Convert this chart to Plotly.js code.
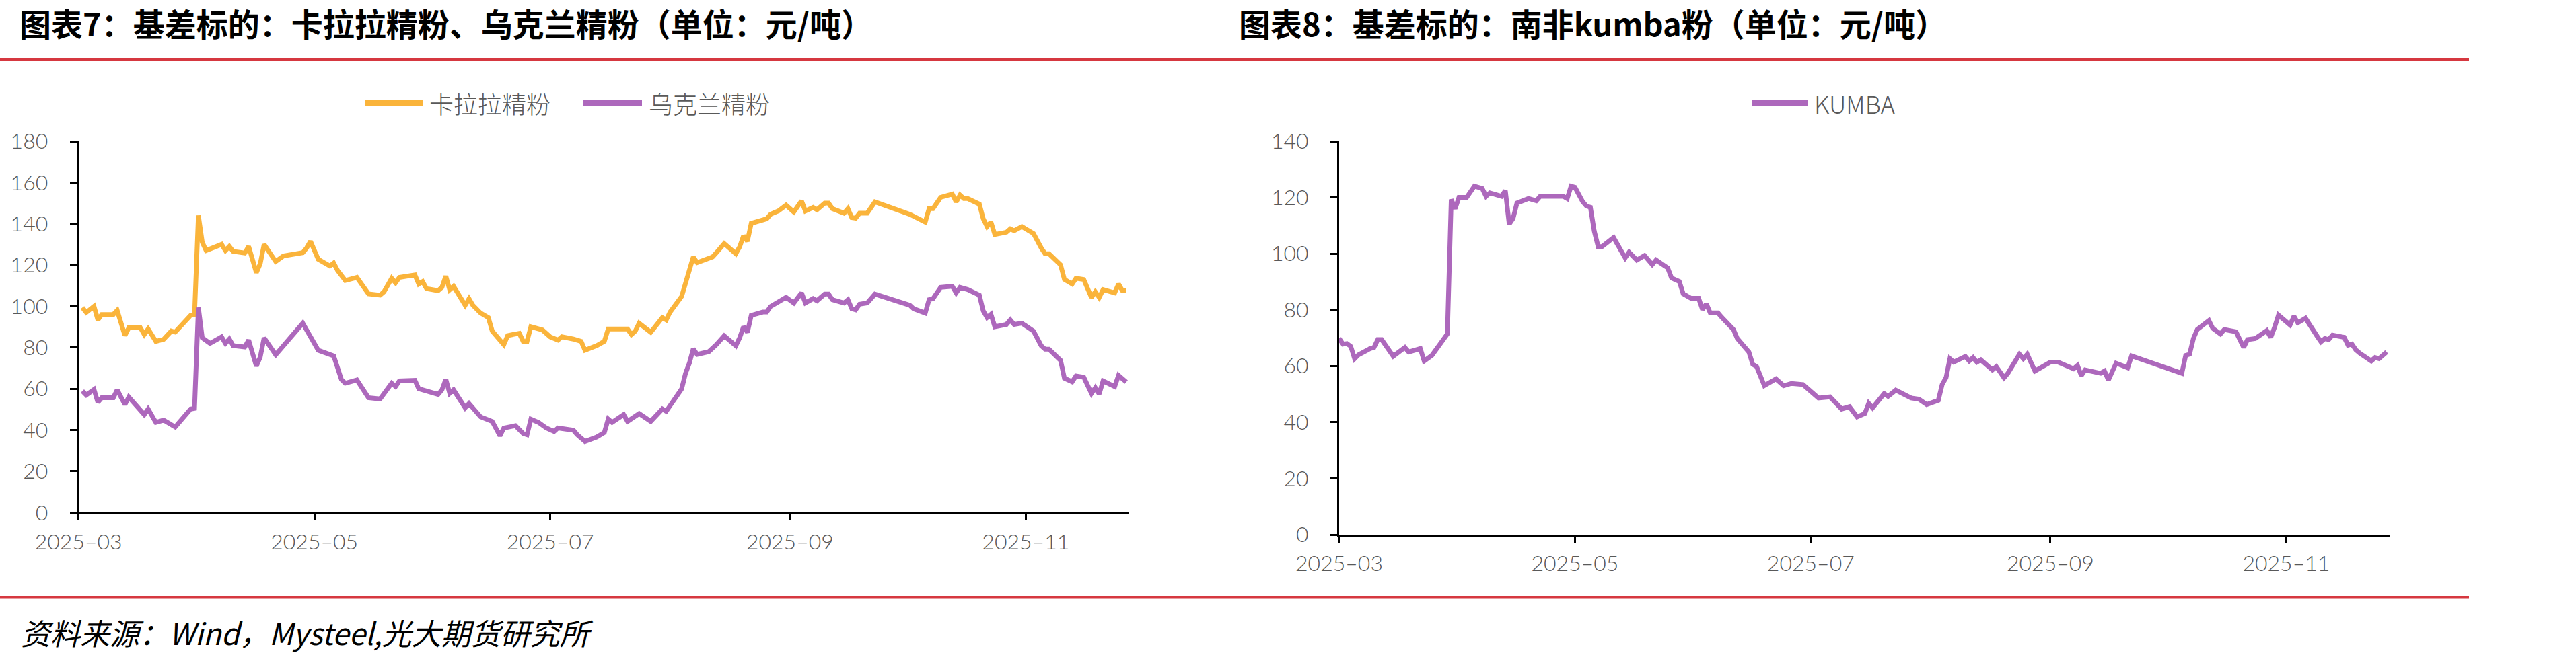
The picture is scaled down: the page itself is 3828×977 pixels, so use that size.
<!DOCTYPE html>
<html>
<head>
<meta charset="utf-8">
<script src="https://cdn.plot.ly/plotly-3.0.1.min.js"></script>
<style>
  html, body { margin: 0; padding: 0; background: #ffffff; }
  #chart { width: 3828px; height: 977px; }
</style>
</head>
<body>
<div id="chart"></div>
<script>
// 卡拉拉精粉 basis (元/吨)
const carajasDates = ['2025-03-02','2025-03-03','2025-03-05','2025-03-06','2025-03-07','2025-03-10','2025-03-11','2025-03-13','2025-03-14','2025-03-17','2025-03-18','2025-03-19','2025-03-21','2025-03-23','2025-03-25','2025-03-26','2025-03-30','2025-03-31',
  '2025-04-01','2025-04-02','2025-04-03','2025-04-07','2025-04-08','2025-04-09','2025-04-10','2025-04-13','2025-04-14','2025-04-16','2025-04-17','2025-04-18','2025-04-21','2025-04-23','2025-04-28','2025-04-29','2025-04-30',
  '2025-05-02','2025-05-05','2025-05-06','2025-05-07','2025-05-09','2025-05-12','2025-05-15','2025-05-18','2025-05-19','2025-05-21','2025-05-22','2025-05-23','2025-05-27','2025-05-28','2025-05-29','2025-05-30',
  '2025-06-02','2025-06-03','2025-06-04','2025-06-05','2025-06-06','2025-06-09','2025-06-10','2025-06-11','2025-06-13','2025-06-15','2025-06-16','2025-06-19','2025-06-20','2025-06-23','2025-06-24','2025-06-25','2025-06-26','2025-06-29',
  '2025-07-01','2025-07-03','2025-07-04','2025-07-07','2025-07-09','2025-07-10','2025-07-13','2025-07-15','2025-07-16','2025-07-21','2025-07-22','2025-07-23','2025-07-24','2025-07-27','2025-07-30','2025-07-31',
  '2025-08-01','2025-08-04','2025-08-05','2025-08-06','2025-08-07','2025-08-08','2025-08-11','2025-08-12','2025-08-13','2025-08-15','2025-08-18','2025-08-19','2025-08-20','2025-08-21','2025-08-22','2025-08-25','2025-08-26','2025-08-27','2025-08-29','2025-08-31',
  '2025-09-02','2025-09-04','2025-09-05','2025-09-07','2025-09-08','2025-09-10','2025-09-11','2025-09-12','2025-09-15','2025-09-16','2025-09-17','2025-09-18','2025-09-19','2025-09-21','2025-09-23',
  '2025-10-02','2025-10-06','2025-10-07','2025-10-08','2025-10-10','2025-10-13','2025-10-14','2025-10-15','2025-10-16','2025-10-17','2025-10-20','2025-10-21','2025-10-22','2025-10-23','2025-10-24','2025-10-27','2025-10-28','2025-10-29','2025-10-31',
  '2025-11-03','2025-11-05','2025-11-06','2025-11-07','2025-11-10','2025-11-11','2025-11-13','2025-11-14','2025-11-16','2025-11-18','2025-11-19','2025-11-20','2025-11-21','2025-11-24','2025-11-25','2025-11-26','2025-11-27'];
const carajasValues = [99.4,97,100,93.4,96,96,98,85.8,89.6,89.6,86.3,89,83,84,88,87.5,95.6,96,
  144,131,127,130,127,129,126.6,125.8,129,116.3,120.6,130,121.7,124.4,126,128.3,131.5,
  122.8,119.5,121,117.4,112.5,114,106,105.4,107,113.6,111.4,114,115.2,110.8,112,108.6,
  107.6,109.2,114.6,108,109.7,100.5,103.7,100.5,96.7,94.5,88,81.4,85.8,86.9,83,83,90.1,88.5,
  85.2,83.6,85.2,84.1,83,78.7,80.9,83,89,89,86.3,88,91.8,87.4,94.5,93.4,
  97.2,104.8,111.4,116.8,123.9,121.2,122.8,123.9,126,130.4,125.5,128.8,134.2,131.5,140.2,141.9,142.4,144.6,146.2,149,
  145.7,151.1,146.2,147.9,146.8,150,150,147.3,145.1,147.3,143,142.7,145.1,145.1,150.6,
  144.6,140.8,147.3,147.3,152.8,154.4,150.6,153.9,152.2,152.2,149.5,142.4,138.6,140.8,134.8,135.9,137.5,136.6,138.6,
  135.3,128.3,125.5,125.5,120.1,113,110.8,113.6,113,104.3,107,104.3,108.1,106.5,110.8,107.6,107.6];

// 乌克兰精粉 basis (元/吨)
const ukraineDates = ['2025-03-02','2025-03-03','2025-03-05','2025-03-06','2025-03-07','2025-03-10','2025-03-11','2025-03-13','2025-03-14','2025-03-17','2025-03-18','2025-03-19','2025-03-21','2025-03-23','2025-03-25','2025-03-26','2025-03-30','2025-03-31',
  '2025-04-01','2025-04-02','2025-04-04','2025-04-07','2025-04-08','2025-04-09','2025-04-10','2025-04-13','2025-04-14','2025-04-16','2025-04-17','2025-04-18','2025-04-21','2025-04-28','2025-04-29',
  '2025-05-02','2025-05-06','2025-05-08','2025-05-09','2025-05-12','2025-05-15','2025-05-18','2025-05-21','2025-05-22','2025-05-23','2025-05-27','2025-05-28','2025-05-30',
  '2025-06-02','2025-06-03','2025-06-04','2025-06-05','2025-06-06','2025-06-09','2025-06-10','2025-06-13','2025-06-16','2025-06-18','2025-06-19','2025-06-22','2025-06-24','2025-06-25','2025-06-26','2025-06-28','2025-06-30',
  '2025-07-02','2025-07-03','2025-07-07','2025-07-08','2025-07-10','2025-07-13','2025-07-15','2025-07-16','2025-07-17','2025-07-20','2025-07-21','2025-07-24','2025-07-27','2025-07-30','2025-07-31',
  '2025-08-01','2025-08-04','2025-08-05','2025-08-06','2025-08-07','2025-08-08','2025-08-11','2025-08-12','2025-08-13','2025-08-15','2025-08-18','2025-08-19','2025-08-20','2025-08-21','2025-08-22','2025-08-25','2025-08-26','2025-08-27','2025-08-29','2025-08-31',
  '2025-09-02','2025-09-04','2025-09-05','2025-09-07','2025-09-08','2025-09-10','2025-09-11','2025-09-12','2025-09-15','2025-09-16','2025-09-17','2025-09-18','2025-09-19','2025-09-21','2025-09-23',
  '2025-10-02','2025-10-03','2025-10-06','2025-10-07','2025-10-08','2025-10-10','2025-10-13','2025-10-14','2025-10-15','2025-10-17','2025-10-20','2025-10-21','2025-10-22','2025-10-23','2025-10-24','2025-10-27','2025-10-28','2025-10-29','2025-10-31',
  '2025-11-03','2025-11-05','2025-11-06','2025-11-07','2025-11-10','2025-11-11','2025-11-13','2025-11-14','2025-11-16','2025-11-18','2025-11-19','2025-11-20','2025-11-21','2025-11-24','2025-11-25','2025-11-27'];
const ukraineValues = [58.9,57,59.7,53.5,55.7,55.7,59.5,52.4,56,49.7,47.5,50.2,43.7,44.8,42.6,41.5,50.2,50.5,
  99.4,84.7,82,85.2,82,84.1,80.9,80.3,83.6,71,75.4,84.7,76.5,91.8,88.5,
  78.7,76,64.5,62.7,64.3,55.7,55.1,62.7,61.1,63.8,64.1,60,58.9,
  57.3,59.5,64.6,57.8,59.5,50.8,52.9,46.4,44.2,37.2,41,42.1,38.3,37.7,45.3,43.7,41,
  39.3,41,39.9,37.7,34.5,36.6,38.8,45.3,43.7,47.5,44.2,48,44.2,50.2,49.1,
  51.8,60,67.5,72.5,79.4,76.7,78,79.4,81.5,85.7,80.9,84.7,90.1,87.4,95.6,97.2,97.2,99.9,102.1,104.3,
  101.6,106.5,101.6,103.7,102.7,105.9,105.9,103.2,101.6,103.2,98.8,98.3,101,101.6,105.9,
  100.5,98.8,96.7,103.2,103.7,109.2,109.7,106.5,109.2,108.1,105.4,97.8,94.5,96.1,90.1,91.2,93.4,91.2,91.8,
  88,80.9,79.2,79.2,73.8,65.1,63.4,66.2,65.6,57.8,60.5,57.5,63.8,61.1,66.5,63.3];

// 南非 KUMBA 粉 basis (元/吨)
const kumbaDates = ['2025-03-01','2025-03-02','2025-03-03','2025-03-04','2025-03-05','2025-03-06','2025-03-09','2025-03-10','2025-03-11','2025-03-12','2025-03-15','2025-03-18','2025-03-19','2025-03-22','2025-03-23','2025-03-25','2025-03-29','2025-03-30','2025-03-31',
  '2025-04-01','2025-04-03','2025-04-05','2025-04-07','2025-04-08','2025-04-09','2025-04-12','2025-04-13','2025-04-14','2025-04-15','2025-04-16','2025-04-19','2025-04-21','2025-04-22','2025-04-28','2025-04-29','2025-04-30',
  '2025-05-01','2025-05-03','2025-05-04','2025-05-05','2025-05-06','2025-05-07','2025-05-08','2025-05-11','2025-05-14','2025-05-15','2025-05-17','2025-05-19','2025-05-21','2025-05-22','2025-05-25','2025-05-26','2025-05-28','2025-05-29','2025-05-31',
  '2025-06-02','2025-06-03','2025-06-04','2025-06-05','2025-06-07','2025-06-08','2025-06-10','2025-06-11','2025-06-12','2025-06-15','2025-06-16','2025-06-17','2025-06-19','2025-06-22','2025-06-24','2025-06-26','2025-06-29',
  '2025-07-02','2025-07-03','2025-07-06','2025-07-09','2025-07-11','2025-07-13','2025-07-15','2025-07-16','2025-07-17','2025-07-20','2025-07-21','2025-07-23','2025-07-27','2025-07-29','2025-07-31',
  '2025-08-03','2025-08-04','2025-08-05','2025-08-06','2025-08-07','2025-08-10','2025-08-11','2025-08-12','2025-08-13','2025-08-14','2025-08-17','2025-08-18','2025-08-20','2025-08-21','2025-08-24','2025-08-25','2025-08-26','2025-08-28',
  '2025-09-01','2025-09-03','2025-09-07','2025-09-08','2025-09-09','2025-09-10','2025-09-14','2025-09-15','2025-09-16','2025-09-18','2025-09-21','2025-09-22',
  '2025-10-05','2025-10-06','2025-10-07','2025-10-08','2025-10-09','2025-10-12','2025-10-13','2025-10-15','2025-10-16','2025-10-19','2025-10-20','2025-10-21','2025-10-22','2025-10-24','2025-10-27','2025-10-28','2025-10-29','2025-10-30',
  '2025-11-02','2025-11-03','2025-11-04','2025-11-06','2025-11-09','2025-11-10','2025-11-11','2025-11-12','2025-11-13','2025-11-16','2025-11-17','2025-11-18','2025-11-19','2025-11-20','2025-11-23','2025-11-24','2025-11-25','2025-11-27'];
const kumbaValues = [69.8,67.8,68,67,62.6,64,66.2,66.6,69.4,69.4,63.5,66.6,65,66.2,61.8,63.8,71.4,119.3,116,
  120,120,124,123.2,120.4,121.6,120.4,122.4,110.5,112.5,118,119.6,118.8,120.4,120.4,119.6,124,
  123.6,118.5,116.9,116.5,108,102.5,102.5,105.7,98.5,100.5,97.7,99.3,96.1,97.7,94.9,91.3,90.1,85.7,84.1,
  84.1,80.1,82.1,78.9,78.9,77.3,74.2,73,69.8,65,60.6,59.8,53,55.4,53,53.8,53.4,
  49.4,48.6,49,44.7,45.5,41.9,43.1,46.7,45.1,50.2,49.2,51.4,48.6,48.2,46.3,
  47.8,53.4,55.8,62.6,61.4,63.4,61.8,63,61.4,62.2,58.6,59.8,55.8,57.4,64.2,62.6,64.2,58.2,
  61.4,61.4,59,60.2,56.6,58.6,57.4,58.2,55,61,59.4,63.6,
  57.4,63.8,64.2,69.8,73,76.2,73.4,71.4,73,72.2,69.4,66.6,69.4,69.8,72.6,70.2,73.8,78.1,
  74.6,77.7,75.4,77,70.6,68.6,69.8,69.4,71,70.2,67.4,67.8,65.8,64.6,61.8,63,62.6,65];

// Axis ticks
const monthTicks = ['2025-03-01','2025-05-01','2025-07-01','2025-09-01','2025-11-01'];
const monthLabels = ['2025–03','2025–05','2025–07','2025–09','2025–11'];
const xRange = ['2025-03-01','2025-11-27 18:00'];

const ORANGE = '#FAB43B';
const PURPLE = '#AD68BC';
const RED = '#D63840';
const TICK_FONT = { family: 'Lato, "Noto Sans", sans-serif', size: 32, color: '#595959', weight: 300 };
const CJK = '"Noto Sans CJK SC", "Noto Sans", sans-serif';

const W = 3828, H = 977;
const px = v => v / W;          // horizontal pixel -> paper
const py = v => 1 - v / H;      // vertical pixel -> paper

function xAxis(domain, anchor) {
  return {
    domain: domain, anchor: anchor, type: 'date', range: xRange,
    tickmode: 'array', tickvals: monthTicks, ticktext: monthLabels,
    ticks: 'outside', ticklen: 9, tickwidth: 3, tickcolor: '#000',
    showline: true, linecolor: '#000', linewidth: 3,
    showgrid: false, zeroline: false, tickfont: TICK_FONT,
    ticklabelstandoff: 4, fixedrange: true
  };
}
function yAxis(domain, anchor, max) {
  return {
    domain: domain, anchor: anchor, range: [0, max], tick0: 0, dtick: 20,
    ticks: 'outside', ticklen: 10, tickwidth: 3, tickcolor: '#000',
    showline: true, linecolor: '#000', linewidth: 3,
    showgrid: false, zeroline: false, tickfont: TICK_FONT,
    ticklabelstandoff: 26, fixedrange: true
  };
}

const traces = [
  { x: carajasDates, y: carajasValues, name: '卡拉拉精粉', type: 'scatter', mode: 'lines',
    line: { color: ORANGE, width: 7 }, xaxis: 'x', yaxis: 'y' },
  { x: ukraineDates, y: ukraineValues, name: '乌克兰精粉', type: 'scatter', mode: 'lines',
    line: { color: PURPLE, width: 7 }, xaxis: 'x', yaxis: 'y' },
  { x: kumbaDates, y: kumbaValues, name: 'KUMBA', type: 'scatter', mode: 'lines',
    line: { color: PURPLE, width: 7 }, xaxis: 'x2', yaxis: 'y2' }
];

// legend swatches and captions
const legendItems = [
  { x0: 542, x1: 628, tx: 636, text: '卡拉拉精粉', color: ORANGE },
  { x0: 867, x1: 954, tx: 962, text: '乌克兰精粉', color: PURPLE },
  { x0: 2603, x1: 2687, tx: 2694, text: 'KUMBA', color: PURPLE }
];
const legendY = 153;

const shapes = [
  { type: 'line', xref: 'paper', yref: 'paper', x0: 0, x1: px(3669), y0: py(88.3), y1: py(88.3),
    line: { color: RED, width: 4.5 } },
  { type: 'line', xref: 'paper', yref: 'paper', x0: 0, x1: px(3669), y0: py(888.3), y1: py(888.3),
    line: { color: RED, width: 4.5 } }
].concat(legendItems.map(it => ({
  type: 'line', xref: 'paper', yref: 'paper', x0: px(it.x0), x1: px(it.x1),
  y0: py(legendY), y1: py(legendY), line: { color: it.color, width: 10 }
})));

const annotations = [
  { text: '图表7：基差标的：卡拉拉精粉、乌克兰精粉（单位：元/吨）', x: px(27), y: py(34),
    font: { family: CJK, size: 47, color: '#000', weight: 700 } },
  { text: '图表8：基差标的：南非kumba粉（单位：元/吨）', x: px(1839), y: py(34),
    font: { family: CJK, size: 47, color: '#000', weight: 700 } },
  { text: '资料来源：Wind，Mysteel,光大期货研究所', x: px(29), y: py(940),
    font: { family: CJK, size: 44, color: '#000', style: 'italic' } }
].concat(legendItems.map(it => ({
  text: it.text, x: px(it.tx), y: py(legendY),
  font: { family: CJK, size: 36, color: '#595959', weight: 300 }
}))).map(a => Object.assign({ xref: 'paper', yref: 'paper', xanchor: 'left', yanchor: 'middle',
  showarrow: false }, a));

const layout = {
  width: W, height: H,
  margin: { l: 0, r: 0, t: 0, b: 0, pad: 0 },
  paper_bgcolor: '#ffffff', plot_bgcolor: '#ffffff',
  showlegend: false,
  xaxis: xAxis([px(116.7), px(1678)], 'y'),
  yaxis: yAxis([py(762.3), py(210)], 'x', 180),
  xaxis2: xAxis([px(1990), px(3551)], 'y2'),
  yaxis2: yAxis([py(795), py(210)], 'x2', 140),
  shapes: shapes,
  annotations: annotations
};

Plotly.newPlot('chart', traces, layout, { displayModeBar: false, staticPlot: true });
</script>
</body>
</html>
